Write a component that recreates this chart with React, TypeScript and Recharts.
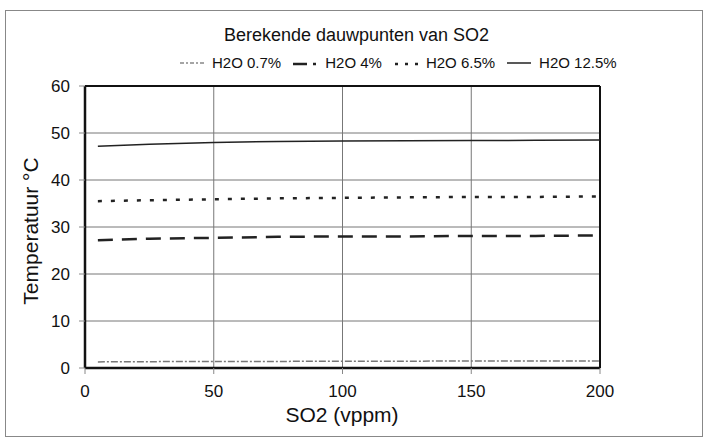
import React from 'react';
import { LineChart, Line, XAxis, YAxis, CartesianGrid, ReferenceLine } from 'recharts';

const so2 = [5, 25, 50, 75, 100, 125, 150, 175, 200];
const h2o07 = [1.3, 1.35, 1.4, 1.4, 1.45, 1.45, 1.5, 1.5, 1.5];
const h2o4 = [27.2, 27.5, 27.7, 27.9, 28.0, 28.0, 28.1, 28.1, 28.2];
const h2o65 = [35.5, 35.7, 35.9, 36.1, 36.2, 36.3, 36.4, 36.4, 36.5];
const h2o125 = [47.2, 47.6, 48.0, 48.2, 48.3, 48.35, 48.4, 48.45, 48.5];
const xTicks = [0, 50, 100, 150, 200];
const yTicks = [0, 10, 20, 30, 40, 50, 60];

const series = [
  { key: 'a', name: 'H2O 0.7%', values: h2o07, stroke: '#777', width: 1.5, dash: '7 2 2 2' },
  { key: 'b', name: 'H2O 4%', values: h2o4, stroke: '#222', width: 2.5, dash: '15 9' },
  { key: 'c', name: 'H2O 6.5%', values: h2o65, stroke: '#222', width: 2.5, dash: '4 9' },
  { key: 'd', name: 'H2O 12.5%', values: h2o125, stroke: '#222', width: 1.5, dash: undefined },
];

const data = so2.map((x, i) => {
  const row: Record<string, number> = { x };
  series.forEach((s) => (row[s.key] = s.values[i]));
  return row;
});

const font = '"Liberation Sans", Arial, sans-serif';

const legendSamples: Record<string, React.ReactNode> = {
  a: <line x1={0} y1={8} x2={24} y2={8} stroke="#888" strokeWidth={1.5} strokeDasharray="4 2 2 2" />,
  b: (
    <g>
      <line x1={0} y1={9} x2={14} y2={9} stroke="#222" strokeWidth={2.5} />
      <line x1={20} y1={9} x2={23} y2={9} stroke="#222" strokeWidth={2.5} />
    </g>
  ),
  c: <line x1={1} y1={9} x2={26} y2={9} stroke="#222" strokeWidth={2.5} strokeDasharray="3 7" />,
  d: <line x1={0} y1={8} x2={24} y2={8} stroke="#222" strokeWidth={1.5} />,
};

const App: React.FC = () => {
  return (
    <div style={{ position: 'absolute', left: 0, top: 0, width: 709, height: 442, background: '#fff', fontFamily: font }}>
      <div style={{ position: 'absolute', left: 5, top: 10, width: 696, height: 425, border: '1px solid #888' }} />
      <div style={{ position: 'absolute', left: 0, top: 25, width: 709, textAlign: 'center', fontSize: 18, color: '#111', paddingLeft: 2 }}>
        Berekende dauwpunten van SO2
      </div>
      <div style={{ position: 'absolute', left: 180, top: 54, display: 'flex', alignItems: 'center', fontSize: 15, color: '#111' }}>
        {series.map((s) => (
          <div key={s.key} style={{ display: 'flex', alignItems: 'center', marginRight: 12 }}>
            <svg width={27} height={16} style={{ marginRight: 5 }}>
              {legendSamples[s.key]}
            </svg>
            <span>{s.name}</span>
          </div>
        ))}
      </div>
      <div style={{ position: 'absolute', left: 0, top: 0 }}>
        <LineChart width={709} height={442} data={data} margin={{ top: 86, right: 109, left: 19, bottom: 0 }}>
          <CartesianGrid stroke="#777" strokeWidth={1} />
          <XAxis
            dataKey="x"
            type="number"
            domain={[0, 200]}
            ticks={xTicks}
            height={74}
            axisLine={{ stroke: '#111', strokeWidth: 2.5 }}
            tickLine={{ stroke: '#888' }}
            tickSize={6}
            tickMargin={11}
            tick={{ fill: '#111', fontSize: 17, fontFamily: font }}
            label={() => (
              <text x={342} y={422} textAnchor="middle" fontSize={21} fontFamily={font} fill="#111">
                SO2 (vppm)
              </text>
            )}
          />
          <YAxis
            type="number"
            domain={[0, 60]}
            ticks={yTicks}
            width={66}
            axisLine={{ stroke: '#111', strokeWidth: 2.5 }}
            tickLine={{ stroke: '#888' }}
            tickSize={6}
            tickMargin={9}
            tick={{ fill: '#111', fontSize: 17, fontFamily: font }}
            label={() => (
              <text x={38} y={231} transform="rotate(-90 38 231)" textAnchor="middle" fontSize={21} fontFamily={font} fill="#111">
                Temperatuur °C
              </text>
            )}
          />
          <ReferenceLine y={60} stroke="#111" strokeWidth={2} />
          <ReferenceLine x={200} stroke="#111" strokeWidth={2} />
          {series.map((s) => (
            <Line
              key={s.key}
              dataKey={s.key}
              name={s.name}
              type="linear"
              stroke={s.stroke}
              strokeWidth={s.width}
              strokeDasharray={s.dash}
              dot={false}
              activeDot={false}
              isAnimationActive={false}
            />
          ))}
        </LineChart>
      </div>
    </div>
  );
};

export default App;
